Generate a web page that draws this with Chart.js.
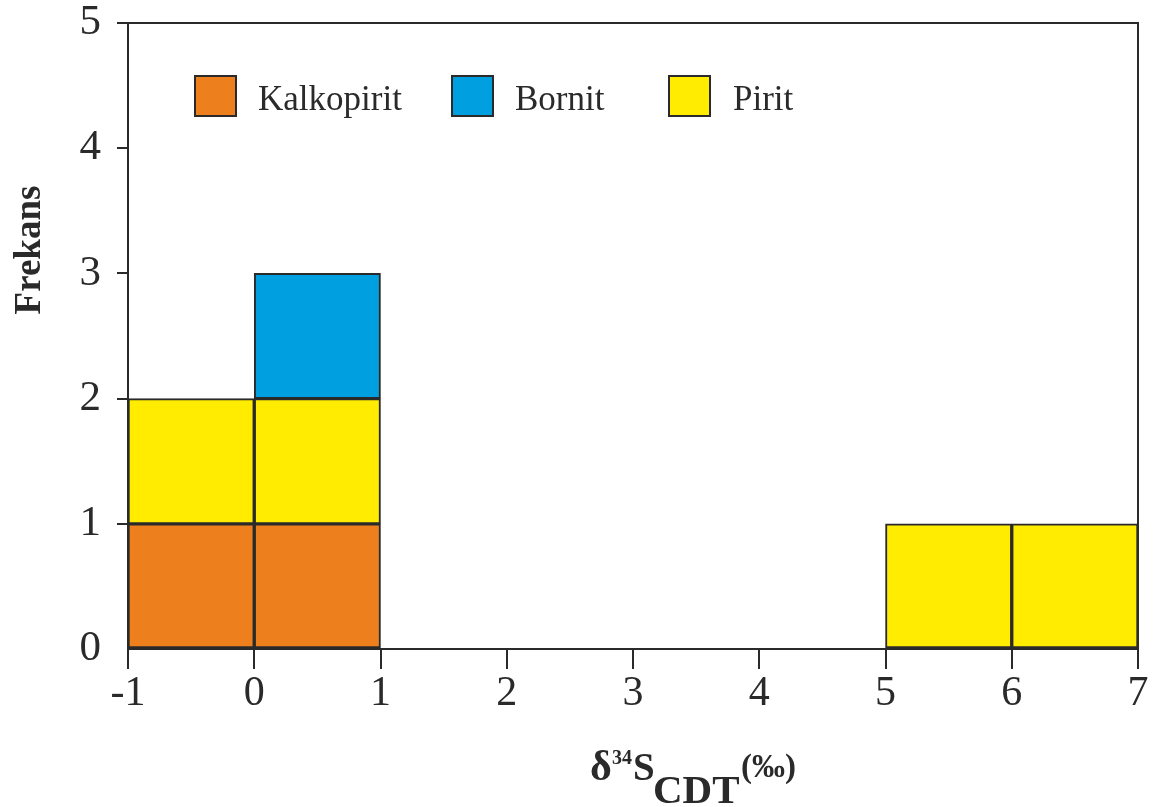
<!DOCTYPE html>
<html>
<head>
<meta charset="utf-8">
<script src="https://cdn.jsdelivr.net/npm/chart.js@4.4.0/dist/chart.umd.min.js"></script>
<style>
  html, body { margin: 0; padding: 0; background: #fff; }
  #wrap { width: 1155px; height: 807px; }
</style>
</head>
<body>
<div id="wrap"><canvas id="histChart" width="1155" height="807"></canvas></div>
<script>
// histogram bins (1 ‰ wide) from -1 to 7
const binLabels = ['-1–0', '0–1', '1–2', '2–3', '3–4', '4–5', '5–6', '6–7'];
const kalkopirit = [1, 1, null, null, null, null, null, null];
const pirit      = [1, 1, null, null, null, null, 1, 1];
const bornit     = [null, 1, null, null, null, null, null, null];
const xTicks = [-1, 0, 1, 2, 3, 4, 5, 6, 7];
const yTicks = [0, 1, 2, 3, 4, 5];

const ink = '#2a2a2a';
const serif = '"Liberation Serif", "Times New Roman", serif';

// box frame (top + right) like the original plot
const framePlugin = {
  id: 'frame',
  afterDraw(chart) {
    const { ctx, chartArea: a } = chart;
    ctx.save();
    ctx.strokeStyle = ink;
    ctx.lineWidth = 2;
    ctx.beginPath();
    ctx.moveTo(a.left - 11, a.top);
    ctx.lineTo(a.right, a.top);
    ctx.lineTo(a.right, a.bottom);
    ctx.stroke();
    ctx.restore();
  }
};

// legend drawn inside the plot area
const legendPlugin = {
  id: 'insideLegend',
  afterDraw(chart) {
    const { ctx } = chart;
    const items = [
      { ds: 0, x: 195 },
      { ds: 2, x: 452 },
      { ds: 1, x: 669 }
    ];
    ctx.save();
    ctx.font = '35px ' + serif;
    ctx.textBaseline = 'middle';
    items.forEach(it => {
      const d = chart.data.datasets[it.ds];
      ctx.fillStyle = d.backgroundColor;
      ctx.fillRect(it.x, 76, 41, 40);
      ctx.strokeStyle = ink;
      ctx.lineWidth = 2;
      ctx.strokeRect(it.x, 76, 41, 40);
      ctx.fillStyle = ink;
      ctx.fillText(d.label, it.x + (it.ds === 1 ? 64 : 63), 101);
    });
    ctx.restore();
  }
};

// axis titles with super/subscripts
const titlePlugin = {
  id: 'axisTitles',
  afterDraw(chart) {
    const { ctx } = chart;
    ctx.save();
    ctx.fillStyle = ink;
    // y title
    ctx.translate(40, 250);
    ctx.rotate(-Math.PI / 2);
    ctx.font = 'bold 37px ' + serif;
    ctx.textAlign = 'center';
    ctx.textBaseline = 'alphabetic';
    ctx.fillText('Frekans', 0, 0);
    ctx.restore();

    ctx.save();
    ctx.fillStyle = ink;
    ctx.textBaseline = 'alphabetic';
    const parts = [
      { t: 'δ', size: 42, x: 590, dy: 0 },
      { t: '34', size: 20, x: 612, dy: -16 },
      { t: 'S', size: 39, x: 633, dy: 0 },
      { t: 'CDT', size: 41, x: 653, dy: 23 },
      { t: '(‰)', size: 33, x: 741, dy: -3 }
    ];
    const base = 780;
    parts.forEach(p => {
      ctx.font = 'bold ' + p.size + 'px ' + serif;
      ctx.fillText(p.t, p.x, base + p.dy);
    });
    ctx.restore();
  }
};

new Chart(document.getElementById('histChart').getContext('2d'), {
  type: 'bar',
  data: {
    labels: binLabels,
    datasets: [
      { label: 'Kalkopirit', data: kalkopirit, backgroundColor: '#ee7f1d', xAxisID: 'xc', yAxisID: 'y' },
      { label: 'Pirit', data: pirit, backgroundColor: '#ffec00', xAxisID: 'xc', yAxisID: 'y' },
      { label: 'Bornit', data: bornit, backgroundColor: '#009fe0', xAxisID: 'xc', yAxisID: 'y' }
    ].map(d => Object.assign(d, {
      borderColor: ink,
      borderWidth: 2,
      borderSkipped: false,
      barPercentage: 1,
      categoryPercentage: 1
    }))
  },
  options: {
    responsive: false,
    animation: false,
    layout: { padding: { left: 0, right: 17, top: 23, bottom: 0 } },
    plugins: {
      legend: { display: false },
      tooltip: { enabled: false }
    },
    scales: {
      xc: {
        type: 'category',
        display: false,
        stacked: true,
        offset: true
      },
      x: {
        type: 'linear',
        position: 'bottom',
        min: xTicks[0],
        max: xTicks[xTicks.length - 1],
        offset: false,
        afterBuildTicks: s => { s.ticks = xTicks.map(v => ({ value: v })); },
        ticks: { font: { family: serif, size: 42 }, color: ink, padding: 0, maxRotation: 0 },
        grid: { drawOnChartArea: false, drawTicks: true, tickLength: 20, color: ink, lineWidth: 2, offset: false },
        border: { display: true, color: ink, width: 2 },
        afterFit: s => { s.height = 158; s.paddingLeft = 0; s.paddingRight = 0; }
      },
      y: {
        type: 'linear',
        min: 0,
        max: 5,
        stacked: true,
        afterBuildTicks: s => { s.ticks = yTicks.map(v => ({ value: v })); },
        ticks: { font: { family: serif, size: 43 }, color: ink, padding: 16 },
        grid: {
          drawOnChartArea: false,
          drawTicks: true,
          tickLength: 11,
          lineWidth: 2,
          color: c => (c.tick && c.tick.value === 0) ? 'rgba(0,0,0,0)' : ink
        },
        border: { display: true, color: ink, width: 2 },
        afterFit: s => { s.width = 128; s.paddingTop = 0; s.paddingBottom = 0; }
      }
    }
  },
  plugins: [framePlugin, legendPlugin, titlePlugin]
});
</script>
</body>
</html>
